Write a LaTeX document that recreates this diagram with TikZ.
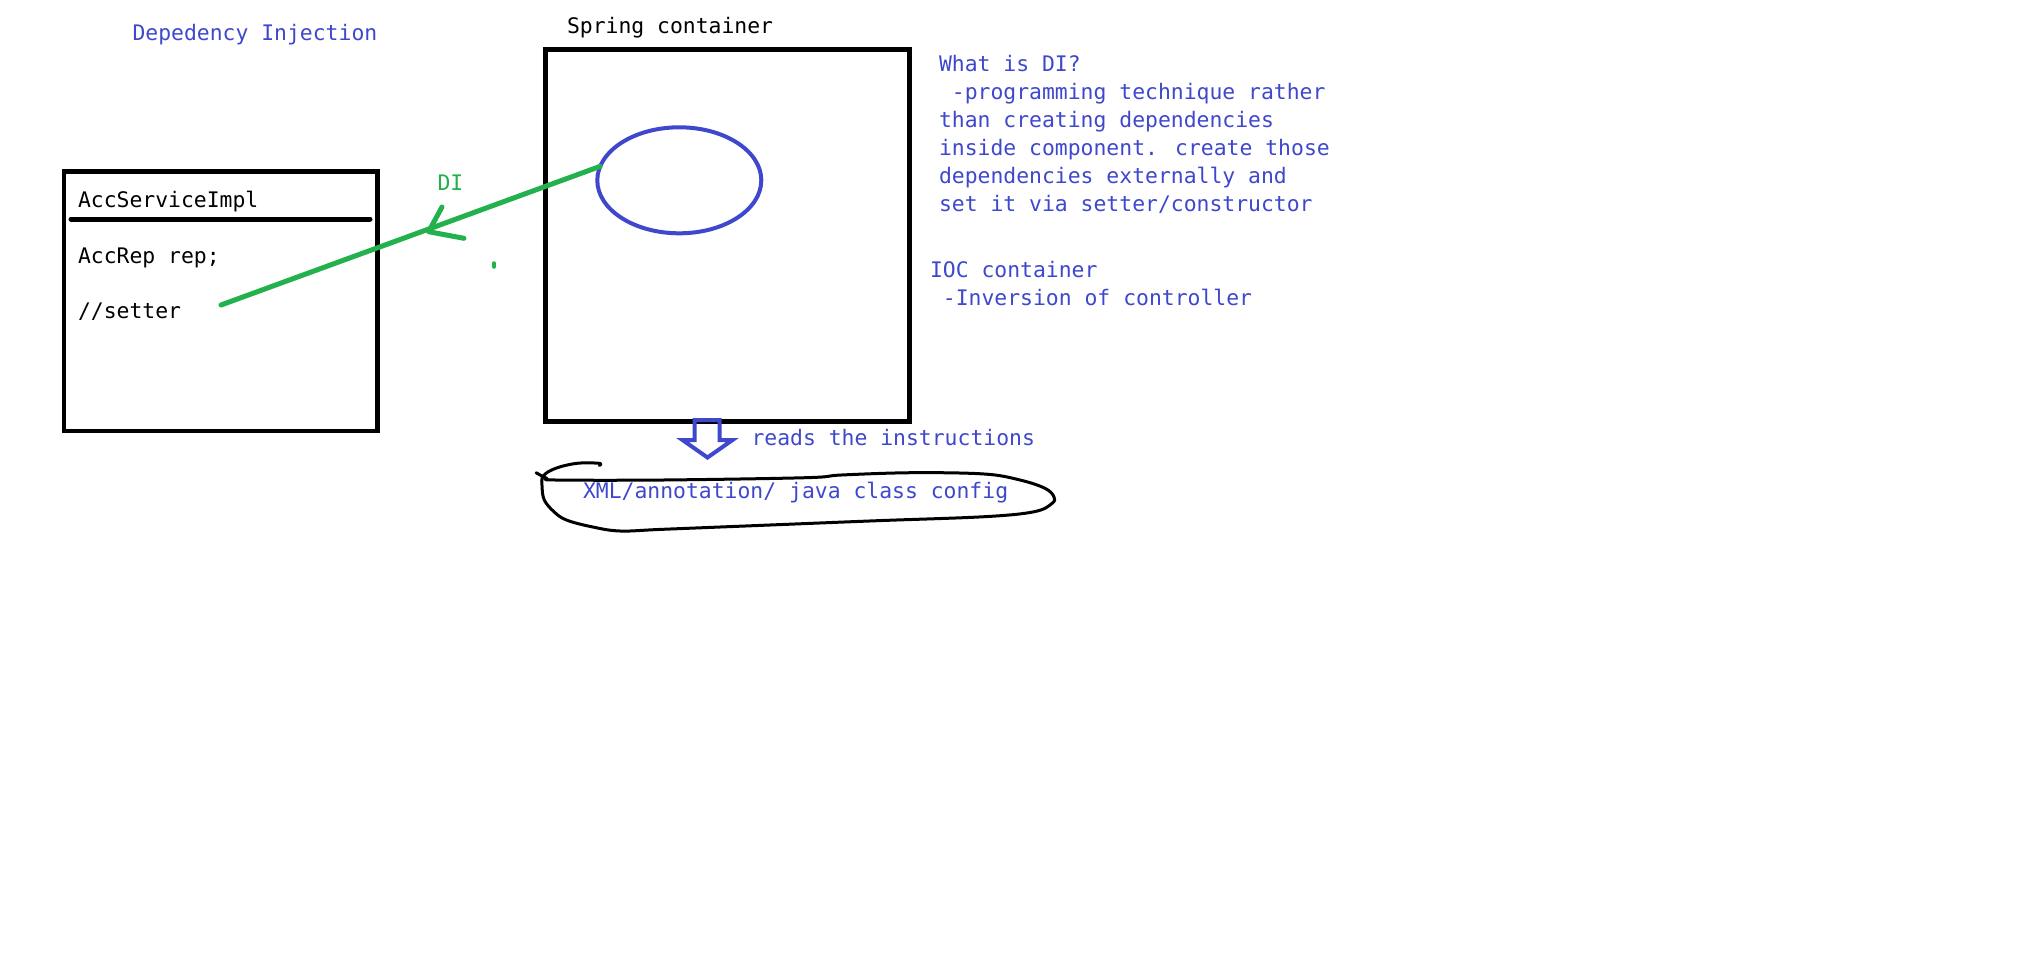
\documentclass[tikz,border=0pt]{standalone}
\usepackage{fontspec}
\newfontfamily\dimono{DejaVu Sans Mono}
\usetikzlibrary{shapes.geometric}
\definecolor{diblue}{RGB}{63,72,204}
\definecolor{digreen}{RGB}{34,177,76}
\tikzset{
  txt/.style={anchor=base west, inner sep=0pt, outer sep=0pt, font=\dimono\fontsize{21.4}{25}\selectfont},
  bluetxt/.style={txt, text=diblue},
  blacktxt/.style={txt, text=black},
  greentxt/.style={txt, text=digreen},
  boxstyle/.style={draw=black, line width=4.5pt, rectangle, inner sep=0pt, outer sep=0pt},
  greenstroke/.style={draw=digreen, line width=5pt, line cap=round, line join=round},
}
\begin{document}
\begin{tikzpicture}[x=1pt, y=-1pt]
\useasboundingbox[fill=white] (0,0) rectangle (2022,978);

% titles
\node[bluetxt] (title) at (132.5,40.5) {Depedency Injection};
\node[blacktxt] (springlbl) at (567,33) {Spring container};

% AccServiceImpl box
\node[boxstyle, minimum width=313.7pt, minimum height=259.3pt] (acc) at (220.85,301.35) {};
\node[blacktxt] (accname) at (78,207) {AccServiceImpl};
\draw[line width=5pt, line cap=round] (71,219) coordinate (sepl) -- (370,219) coordinate (sepr);
\node[blacktxt] (accrep) at (78,263.3) {AccRep rep;};
\node[blacktxt] (setter) at (78,318.3) {//setter};

% Spring container box
\node[boxstyle, minimum width=364.4pt, minimum height=372pt] (spring) at (727.5,235.7) {};
\node[ellipse, draw=diblue, line width=4pt, minimum width=164pt, minimum height=106pt, inner sep=0pt, outer sep=0pt] (bean) at (679.3,180.3) {};

% DI connector
\coordinate (setterend) at (221,305);
\draw[greenstroke] (bean.170) -- (setterend);
\coordinate (ditip) at (428.6,231.7);
\draw[greenstroke] (442,207) -- (ditip) -- (464,238.3);
\node[greentxt] (dilbl) at (437.5,190) {DI};
\draw[draw=digreen, line width=3.5pt, line cap=round] (494,263) coordinate (dot1) -- (494,267) coordinate (dot2);

% right-hand notes
\node[bluetxt] (w1) at (939,71.7) {What is DI?};
\node[bluetxt] (w2) at (939,99.6) {\hphantom{x}-programming technique rather};
\node[bluetxt] (w3) at (939,127.5) {than creating dependencies};
\node[bluetxt] (w4) at (939,155.4) {inside component. create those};
\node[bluetxt] (w5) at (939,183.3) {dependencies externally and};
\node[bluetxt] (w6) at (939,211.2) {set it via setter/constructor};
\node[bluetxt] (ioc1) at (930,277) {IOC container};
\node[bluetxt] (ioc2) at (930,305) {\hphantom{x}-Inversion of controller};

% reads arrow
\draw[draw=diblue, line width=4pt, line join=miter]
  (694.7,420) -- (694.7,440) -- (682.5,440) -- (707.5,457.5) -- (732.5,440) -- (719.7,440) -- (719.7,420) -- cycle;
\node[bluetxt] (reads) at (751.5,445) {reads the instructions};

% config loop
\node[bluetxt] (config) at (583,498) {XML/annotation/ java class config};
\draw[black, line width=3pt, line cap=round, line join=round] plot[smooth, tension=0.6] coordinates {
 (599.3,465.5) (599.3,463.3) (577.1,463.3) (555.7,468.3) (543.2,476) (542.1,486.7) (544.3,500)
 (553.9,511.7) (566.4,520) (591.4,526.7) (620,531) (662.9,529.3) (770,525) (877.1,520.7)
 (984.3,516.7) (1034.3,511.7) (1052.1,503.3) (1053.9,496.7) (1045,488.3) (1020,480)
 (984.3,474) (912.9,472.7) (841.4,475) (805.7,477.7) (662.9,480) (555.7,480) (546.8,478.3) (536.1,472.7)};
\end{tikzpicture}
\end{document}
